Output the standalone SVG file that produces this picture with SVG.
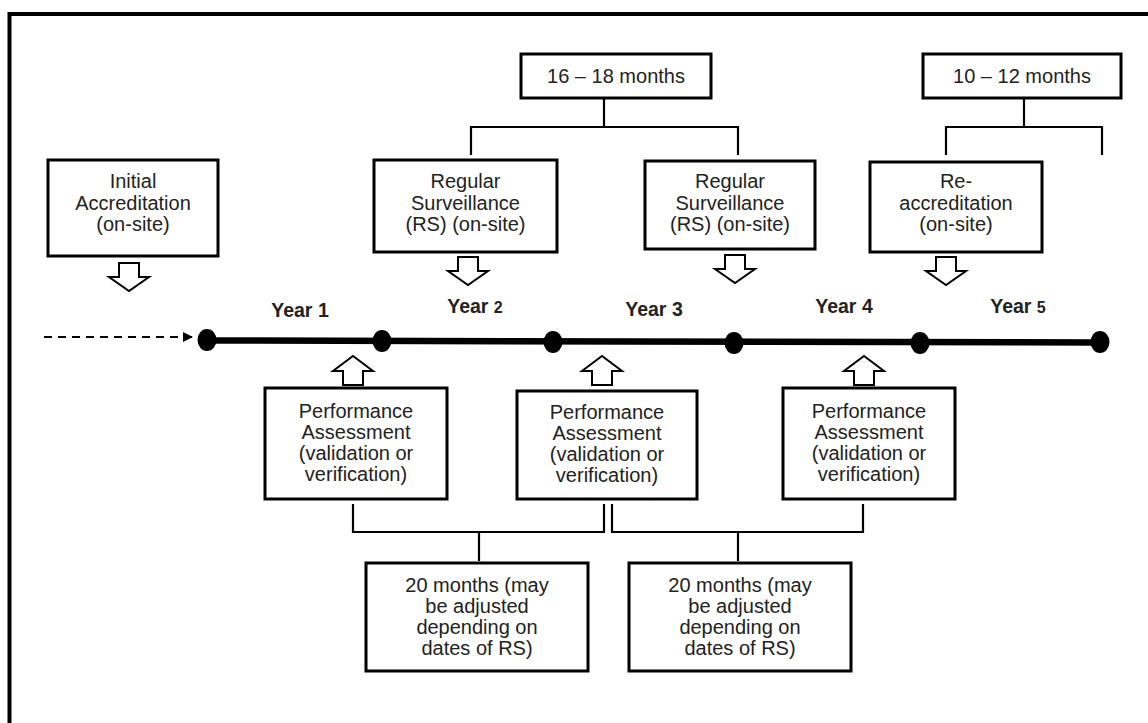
<svg xmlns="http://www.w3.org/2000/svg" xmlns:xlink="http://www.w3.org/1999/xlink" width="1148" height="723" viewBox="0 0 1148 723">
<style>
.box{fill:#fff;stroke:#000;stroke-width:3}
.t{font-family:"Liberation Sans",Arial,sans-serif;font-size:20px;fill:#222;text-anchor:middle}
.y{font-family:"Liberation Sans",Arial,sans-serif;font-size:19.5px;font-weight:bold;fill:#222;text-anchor:middle}
.ln{fill:none;stroke:#000;stroke-width:2.2}
.arr{fill:#fff;stroke:#000;stroke-width:2;stroke-linejoin:miter}
</style>
<defs>
<path id="down" class="arr" d="M-10,0 H10 V14 H20 L0,28 L-20,14 H-10 Z"/>
<path id="up" class="arr" d="M-10,29 H10 V15 H20 L0,0 L-20,15 H-10 Z"/>
<marker id="ah" markerWidth="10" markerHeight="10" refX="9" refY="5" orient="auto" markerUnits="userSpaceOnUse" viewBox="0 0 10 10">
<path d="M0,0 L10,5 L0,10 Z" fill="#000"/>
</marker>
</defs>
<rect x="9.5" y="14" width="1160" height="740" fill="none" stroke="#000" stroke-width="4"/>

<g id="connectors">
<path class="ln" d="M604,99 V127 M471,155 V127 H738 V155"/>
<path class="ln" d="M1024,99 V127 M946,155 V127 H1102 V155"/>
<path class="ln" d="M353,504 V532 H604 V504 M479,532 V561"/>
<path class="ln" d="M612,504 V532 H863 V504 M738,532 V561"/>
<line x1="44" y1="337" x2="192" y2="337" stroke="#000" stroke-width="2" stroke-dasharray="8,6" marker-end="url(#ah)"/>
<line x1="207" y1="340.5" x2="1100" y2="342.5" stroke="#000" stroke-width="6.5"/>
<use xlink:href="#down" x="129" y="263"/>
<use xlink:href="#down" x="468" y="257"/>
<use xlink:href="#down" x="735" y="255"/>
<use xlink:href="#down" x="946" y="257"/>
<use xlink:href="#up" x="353" y="356"/>
<use xlink:href="#up" x="602" y="356"/>
<use xlink:href="#up" x="864" y="356"/>
</g>

<g id="timeline-points">
<ellipse cx="207" cy="340" rx="9.5" ry="11"/>
<ellipse cx="382" cy="341" rx="9.5" ry="11"/>
<ellipse cx="553" cy="342" rx="9.5" ry="11"/>
<ellipse cx="734" cy="343" rx="9.5" ry="11"/>
<ellipse cx="920" cy="343" rx="9.5" ry="11"/>
<ellipse cx="1100" cy="342" rx="9.5" ry="11"/>
</g>

<g id="years">
<text class="y" x="300" y="317">Year 1</text>
<text class="y" x="475" y="313">Year <tspan font-size="16">2</tspan></text>
<text class="y" x="654" y="316">Year 3</text>
<text class="y" x="844" y="313">Year 4</text>
<text class="y" x="1018" y="313">Year <tspan font-size="16">5</tspan></text>
</g>

<g id="initial">
<rect class="box" x="48" y="160" width="170" height="96"/>
<text class="t" x="133" y="188">Initial</text>
<text class="t" x="133" y="209.5">Accreditation</text>
<text class="t" x="133" y="230.5">(on-site)</text>
</g>

<g id="rs1">
<rect class="box" x="374" y="160" width="183" height="92"/>
<text class="t" x="465.5" y="188">Regular</text>
<text class="t" x="465.5" y="209.5">Surveillance</text>
<text class="t" x="465.5" y="230.5">(RS) (on-site)</text>
</g>

<g id="rs2">
<rect class="box" x="645" y="161" width="170" height="88"/>
<text class="t" x="730" y="188">Regular</text>
<text class="t" x="730" y="209.5">Surveillance</text>
<text class="t" x="730" y="230.5">(RS) (on-site)</text>
</g>

<g id="reacc">
<rect class="box" x="870" y="162" width="172" height="90"/>
<text class="t" x="956" y="188">Re-</text>
<text class="t" x="956" y="209.5">accreditation</text>
<text class="t" x="956" y="230.5">(on-site)</text>
</g>

<g id="m1618">
<rect class="box" x="521" y="54" width="190" height="44"/>
<text class="t" x="616" y="83">16 – 18 months</text>
</g>

<g id="m1012">
<rect class="box" x="923" y="54" width="198" height="44"/>
<text class="t" x="1022" y="83">10 – 12 months</text>
</g>

<g id="pa1">
<rect class="box" x="265" y="388" width="182" height="111"/>
<text class="t" x="356" y="418">Performance</text>
<text class="t" x="356" y="439">Assessment</text>
<text class="t" x="356" y="459.5">(validation or</text>
<text class="t" x="356" y="480.5">verification)</text>
</g>

<g id="pa2">
<rect class="box" x="517" y="391" width="180" height="108"/>
<text class="t" x="607" y="419">Performance</text>
<text class="t" x="607" y="440">Assessment</text>
<text class="t" x="607" y="460.5">(validation or</text>
<text class="t" x="607" y="481.5">verification)</text>
</g>

<g id="pa3">
<rect class="box" x="783" y="388" width="172" height="111"/>
<text class="t" x="869" y="418">Performance</text>
<text class="t" x="869" y="439">Assessment</text>
<text class="t" x="869" y="459.5">(validation or</text>
<text class="t" x="869" y="480.5">verification)</text>
</g>

<g id="m20a">
<rect class="box" x="366" y="563" width="222" height="108"/>
<text class="t" x="477" y="592">20 months (may</text>
<text class="t" x="477" y="613">be adjusted</text>
<text class="t" x="477" y="634">depending on</text>
<text class="t" x="477" y="655">dates of RS)</text>
</g>

<g id="m20b">
<rect class="box" x="629" y="563" width="222" height="108"/>
<text class="t" x="740" y="592">20 months (may</text>
<text class="t" x="740" y="613">be adjusted</text>
<text class="t" x="740" y="634">depending on</text>
<text class="t" x="740" y="655">dates of RS)</text>
</g>
</svg>
